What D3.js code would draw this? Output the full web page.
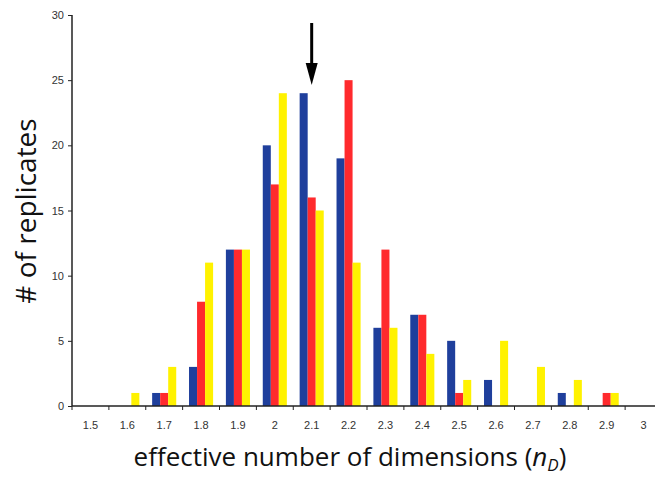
<!DOCTYPE html>
<html>
<head>
<meta charset="utf-8">
<script src="https://cdn.jsdelivr.net/npm/d3@7"></script>
<style>
  body { margin: 0; background: #fff; }
  .tick text { font-family: "Liberation Sans", Arial, sans-serif; font-size: 11px; fill: #333; }
  .title { font-family: "Open Sans", "Noto Sans", sans-serif; font-size: 26px; fill: #111; }
</style>
</head>
<body>
<div id="chart"></div>
<script>
// bins of the effective number of dimensions
var bins = ["1.5", "1.6", "1.7", "1.8", "1.9", "2", "2.1", "2.2", "2.3", "2.4", "2.5", "2.6", "2.7", "2.8", "2.9", "3"];
var blueCounts   = [0, 0, 1, 3, 12, 20, 24, 19, 6, 7, 5, 2, 0, 1, 0, 0];
var redCounts    = [0, 0, 1, 8, 12, 17, 16, 25, 12, 7, 1, 0, 0, 0, 1, 0];
var yellowCounts = [0, 1, 3, 11, 12, 24, 15, 11, 6, 4, 2, 5, 3, 2, 1, 0];
var yTicks = [0, 5, 10, 15, 20, 25, 30];
var arrowBin = "2.1";

var seriesNames = ["blue", "red", "yellow"];
var colors = {blue: "#1f3f9c", red: "#ff2a2d", yellow: "#fff200"};

var margin = {top: 15, left: 72, right: -7, bottom: 72},
    width = 655 - margin.left - margin.right,
    height = 478 - margin.top - margin.bottom;

var svg = d3.select("#chart").append("svg")
    .attr("width", 655)
    .attr("height", 478)
    .append("g")
    .attr("transform", "translate(" + margin.left + "," + margin.top + ")");

var x = d3.scaleBand().domain(bins).range([0, width]).paddingInner(0).paddingOuter(0);
var xs = d3.scaleBand().domain(seriesNames).range([6.4, x.bandwidth() - 6.4]);
var y = d3.scaleLinear().domain([0, 30]).range([height, 0]);

var data = bins.map(function(b, i) {
  return {bin: b, blue: blueCounts[i], red: redCounts[i], yellow: yellowCounts[i]};
});

// bars
var groups = svg.selectAll(".bin").data(data).enter().append("g")
  .attr("class", "bin")
  .attr("transform", function(d) { return "translate(" + x(d.bin) + ",0)"; });

groups.selectAll("rect")
  .data(function(d) { return seriesNames.map(function(s) { return {key: s, value: d[s]}; }); })
  .enter().append("rect")
  .attr("x", function(d) { return xs(d.key); })
  .attr("width", xs.bandwidth())
  .attr("y", function(d) { return y(d.value); })
  .attr("height", function(d) { return height - y(d.value); })
  .attr("fill", function(d) { return colors[d.key]; });

// x axis: ticks sit between bins, labels centred in bins
var xAxis = svg.append("g").attr("transform", "translate(0," + height + ")");
xAxis.append("line").attr("x1", 0).attr("x2", width).attr("stroke", "#222").attr("stroke-width", 1.5);
xAxis.selectAll(".xt").data(bins).enter().append("line")
  .attr("x1", function(d) { return x(d); }).attr("x2", function(d) { return x(d); })
  .attr("y1", 0).attr("y2", 4).attr("stroke", "#222");
xAxis.selectAll(".tick").data(bins).enter().append("g").attr("class", "tick")
  .append("text")
  .attr("x", function(d) { return x(d) + x.bandwidth() / 2; })
  .attr("y", 23)
  .attr("text-anchor", "middle")
  .text(function(d) { return d; });

// y axis
svg.append("g")
  .call(d3.axisLeft(y).tickValues(yTicks).tickSize(4).tickPadding(4))
  .call(function(g) { g.select(".domain").attr("stroke", "#222").attr("stroke-width", 1.5).attr("d", "M0," + height + "V0"); })
  .call(function(g) { g.selectAll(".tick line").attr("stroke", "#222"); });

// arrow marking the 2.1 bin
var ax = x(arrowBin) + x.bandwidth() / 2;
svg.append("line")
  .attr("x1", ax).attr("x2", ax)
  .attr("y1", 8).attr("y2", 52)
  .attr("stroke", "#000").attr("stroke-width", 3);
svg.append("path")
  .attr("d", "M" + (ax - 6) + ",48 L" + (ax + 6) + ",48 L" + ax + ",70 Z")
  .attr("fill", "#000");

// titles
svg.append("text")
  .attr("class", "title")
  .attr("x", 278)
  .attr("y", height + 60)
  .attr("text-anchor", "middle")
  .html('effective number of dimensions (<tspan font-style="italic">n</tspan><tspan font-style="italic" font-size="17" dy="5">D</tspan><tspan dy="-5">)</tspan>');

svg.append("text")
  .attr("class", "title")
  .attr("font-size", 28)
  .style("font-size", "28px")
  .attr("transform", "translate(-36," + (211 - margin.top) + ") rotate(-90)")
  .attr("text-anchor", "middle")
  .text("# of replicates");
</script>
</body>
</html>
